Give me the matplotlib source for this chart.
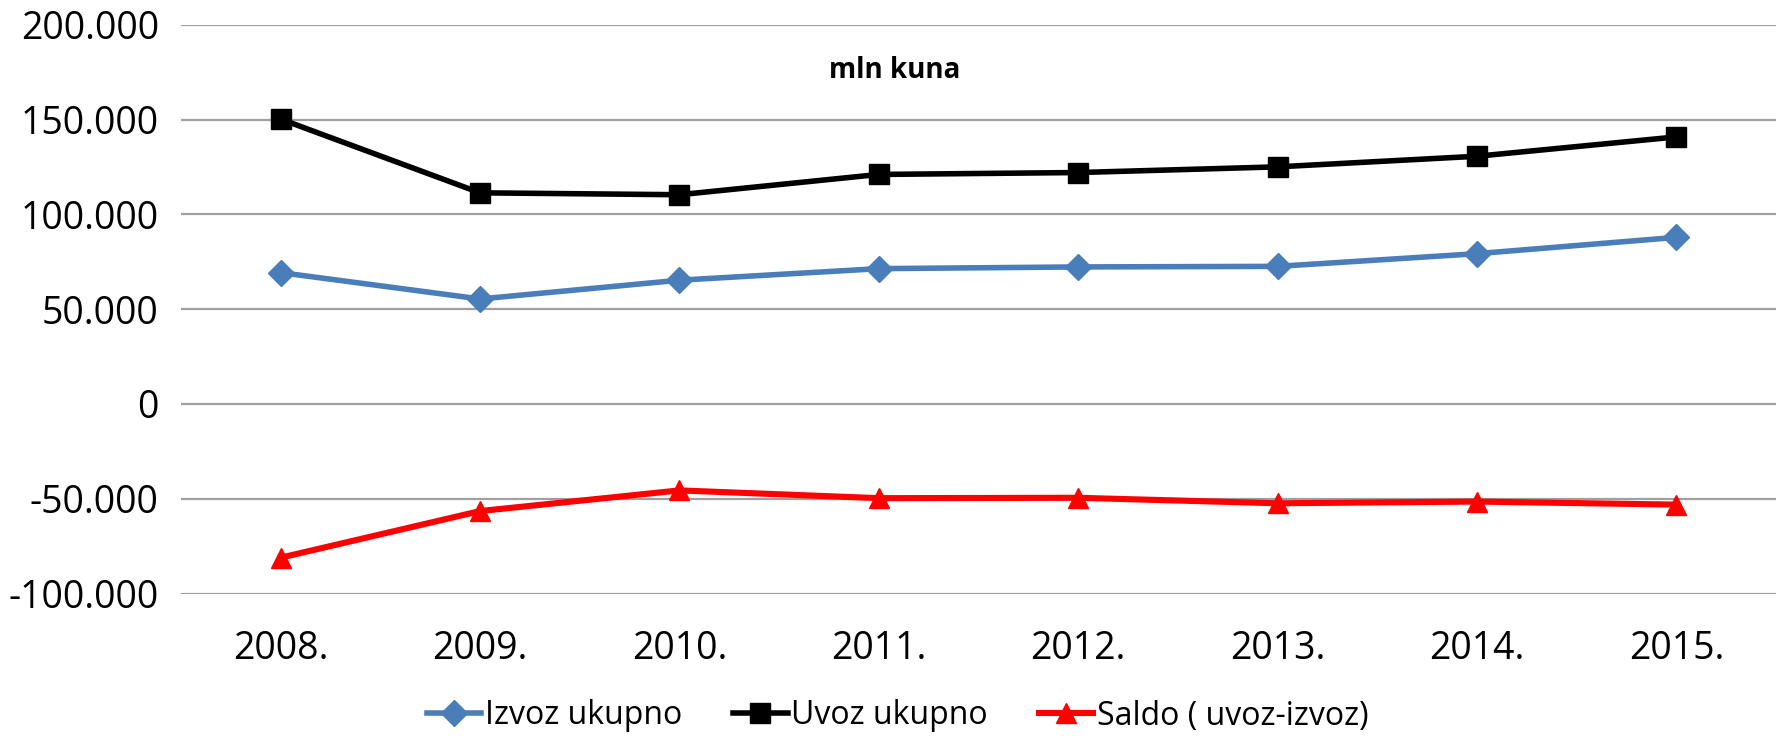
import matplotlib
matplotlib.use("Agg")
import matplotlib.pyplot as plt
from matplotlib.ticker import FuncFormatter

years = ["2008.", "2009.", "2010.", "2011.", "2012.", "2013.", "2014.", "2015."]
izvoz = [69300, 55400, 65300, 71400, 72300, 72600, 79300, 87900]
uvoz = [150300, 111400, 110400, 121100, 122100, 125100, 130700, 140900]
saldo = [-81100, -56500, -45600, -49700, -49500, -52400, -51500, -53100]
yticks = [-100000, -50000, 0, 50000, 100000, 150000, 200000]

plt.rcParams['font.family'] = ['Open Sans', 'DejaVu Sans']

fig = plt.figure(figsize=(17.76, 7.36), dpi=100)
W, H = 1776, 736
left, right, top, bottom = 181, 1776, 24.9, 593.5
ax = fig.add_axes([left / W, 1 - bottom / H, (right - left) / W, (bottom - top) / H])

x = list(range(len(years)))
ax.plot(x, izvoz, color="#4a7ebb", lw=4.0, marker="D", ms=13, label="Izvoz ukupno", zorder=3)
ax.plot(x, uvoz, color="black", lw=4.0, marker="s", ms=14, label="Uvoz ukupno", zorder=3)
ax.plot(x, saldo, color="#ff0000", lw=4.4, marker="^", ms=15, label="Saldo ( uvoz-izvoz)", zorder=3)

ax.set_xlim(-0.5, len(years) - 0.5)
ax.set_ylim(-100000, 200000)
ax.set_yticks(yticks)
ax.set_xticks(x)
ax.set_xticklabels(years)

def fmt(v, pos):
    if v == 0:
        return "0"
    s = f"{abs(int(v)):,}".replace(",", ".")
    return ("-" if v < 0 else "") + s

ax.yaxis.set_major_formatter(FuncFormatter(fmt))
ax.tick_params(axis="both", length=0, labelsize=27)
ax.tick_params(axis="y", pad=16)
ax.tick_params(axis="x", pad=26)
ax.grid(axis="y", color="#a0a0a0", lw=1.6)
ax.set_axisbelow(True)
for s in ax.spines.values():
    s.set_visible(False)

fig.text(0.504, 1 - 70 / H, "mln kuna", ha="center", va="center", fontsize=20, fontweight="bold")

fig.legend(loc="center", bbox_to_anchor=(0.5055, 1 - 716 / H), ncol=3, frameon=False,
           fontsize=23, handlelength=1.7, handletextpad=0.12, columnspacing=1.6)

fig.savefig("out.png", dpi=100)
